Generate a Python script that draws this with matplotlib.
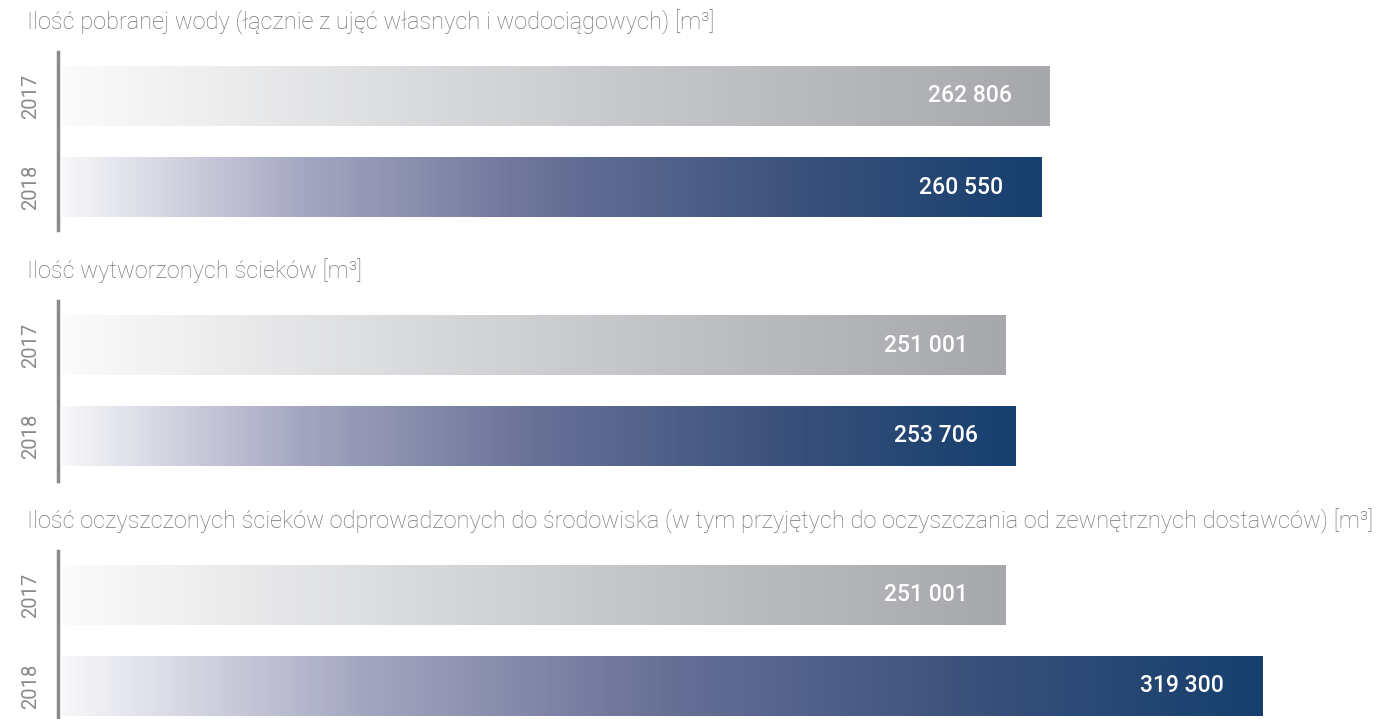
import matplotlib
matplotlib.use("Agg")
import matplotlib.pyplot as plt
import matplotlib.colors as colors
import numpy as np

plt.rcParams['font.family'] = ['Roboto', 'DejaVu Sans']

titles = [
    "Ilość pobranej wody (łącznie z ujęć własnych i wodociągowych) [m³]",
    "Ilość wytworzonych ścieków [m³]",
    "Ilość oczyszczonych ścieków odprowadzonych do środowiska (w tym przyjętych do oczyszczania od zewnętrznych dostawców) [m³]",
]
years = ["2017", "2018"]
values_2017 = [262806, 251001, 251001]
values_2018 = [260550, 253706, 319300]

# gradients: 2017 grey, 2018 navy
cmap_2017 = colors.LinearSegmentedColormap.from_list(
    "g17", ["#fbfbfb", "#dcdddf", "#bfc0c3", "#a7a8ab"])
cmap_2018 = colors.LinearSegmentedColormap.from_list(
    "g18", [(0.0, "#f7f7f9"), (0.25, "#a4a6c0"), (0.5, "#687096"),
            (0.77, "#38507a"), (1.0, "#163f6e")])

W, H = 1396, 719
fig = plt.figure(figsize=(W / 100, H / 100), dpi=100)

# panel layout in pixels: (title y, axis top, axis bottom)
panels = [(22, 52, 230), (271, 301, 481), (521, 551, 730)]

grad = np.linspace(0, 1, 256).reshape(1, -1)

for i, (ty, top, bot) in enumerate(panels):
    fig.text(27 / W, 1 - ty / H, titles[i], fontsize=17, color="#737373",
             fontweight="light", va="center", ha="left")
    ax = fig.add_axes([58 / W, 1 - bot / H, (W - 58) / W, (bot - top) / H])
    vals = [values_2017[i], values_2018[i]]
    bars = ax.barh([0, 1], vals, height=0.66, color="none", edgecolor="none")
    for b, cm, v in zip(bars, [cmap_2017, cmap_2018], vals):
        x0, y0 = b.get_x(), b.get_y()
        im = ax.imshow(grad, cmap=cm, aspect="auto",
                       extent=[x0, x0 + b.get_width(), y0 + b.get_height(), y0],
                       interpolation="bicubic", zorder=2)
        im.set_clip_path(b)
        ax.annotate(f"{v:,}".replace(",", " "), xy=(x0 + b.get_width(), b.get_y() + b.get_height() / 2),
                    xytext=(-38, 0), textcoords="offset pixels", ha="right", va="center",
                    fontsize=16.5, fontweight="medium", color="white", zorder=3)
    ax.set_ylim(1.0 + (bot - top - 91 - 44) / 91, -44 / 91)
    ax.set_xlim(-1064, 354876)
    ax.set_yticks([0, 1], labels=years, rotation=90, va="center",
                  fontsize=14.5, color="#8a8a8a")
    ax.tick_params(axis="y", length=0, pad=13)
    ax.set_xticks([])
    for s in ["top", "right", "bottom"]:
        ax.spines[s].set_visible(False)
    ax.spines["left"].set_color("#8a8a8a")
    ax.spines["left"].set_linewidth(2.5)
    ax.patch.set_alpha(0)

fig.savefig("out.png", dpi=100)
